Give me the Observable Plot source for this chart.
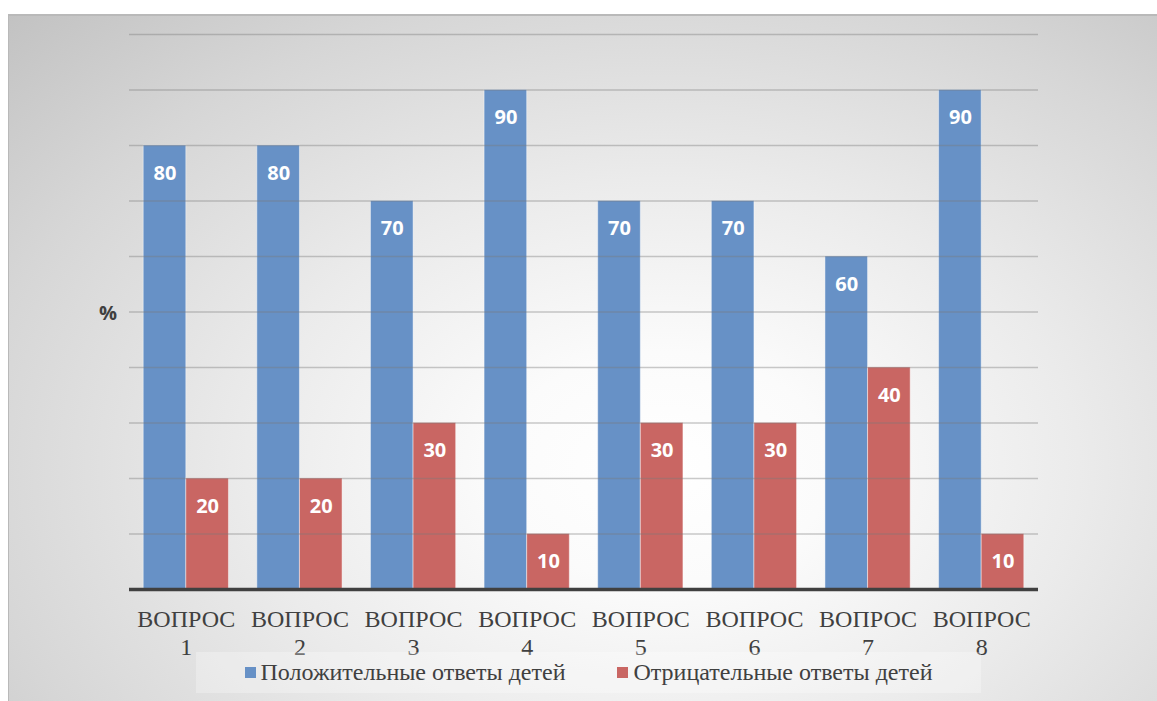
<!DOCTYPE html>
<html>
<head>
<meta charset="utf-8">
<script src="https://cdn.jsdelivr.net/npm/d3@7"></script>
<script src="https://cdn.jsdelivr.net/npm/@observablehq/plot@0.6"></script>
<style>
  html, body { margin: 0; padding: 0; background: #ffffff; }
  #page { position: relative; width: 1157px; height: 701px; overflow: hidden; }
  #frame {
    position: absolute; left: 8px; top: 14px; width: 1149px; height: 687px;
    background: radial-gradient(ellipse farthest-corner at 57% 66%, #ffffff 0%, #fbfbfb 18%, #ebebeb 45%, #d6d6d6 75%, #c2c2c2 100%);
    box-shadow: inset 1px 2px 0 #b9b9b9;
  }
  #chart { position: absolute; left: 0; top: 0; }
  #legend {
    position: absolute; left: 188px; top: 638px; width: 785px; height: 41px;
    background: rgba(255,255,255,0.28);
    display: flex; align-items: center; justify-content: center; gap: 52px;
    font-family: "Liberation Serif", "Times New Roman", serif; font-size: 24px; color: #404040;
  }
  .item { display: flex; align-items: center; }
  .sw { width: 11px; height: 11px; margin-right: 5px; }
</style>
</head>
<body>
<div id="page"><div id="frame"><div id="chart"></div><div id="legend"></div></div></div>
<script>
const categories = ["ВОПРОС 1", "ВОПРОС 2", "ВОПРОС 3", "ВОПРОС 4", "ВОПРОС 5", "ВОПРОС 6", "ВОПРОС 7", "ВОПРОС 8"];
const positive = [80, 80, 70, 90, 70, 70, 60, 90];
const negative = [20, 20, 30, 10, 30, 30, 40, 10];
const seriesNames = ["Положительные ответы детей", "Отрицательные ответы детей"];
const seriesColors = ["#6791c6", "#c96663"];
const yTicks = [10, 20, 30, 40, 50, 60, 70, 80, 90, 100];

const posData = categories.map((c, i) => ({category: c, value: positive[i]}));
const negData = categories.map((c, i) => ({category: c, value: negative[i]}));

const W = 1149, H = 660, ML = 121, MR = 119, MT = 20, MB = 85;
const paddingInner = 0.25, paddingOuter = 0.125;
const step = (W - ML - MR) / categories.length;
const bw = step * (1 - paddingInner);
const half = bw / 2;

const labelStyle = {fill: "white", fontWeight: "bold", fontSize: 20, fontFamily: "'Open Sans', sans-serif", dy: 28};

const chart = Plot.plot({
  width: W, height: H,
  marginLeft: ML, marginRight: MR, marginTop: MT, marginBottom: MB,
  style: {background: "transparent", overflow: "visible"},
  x: {domain: categories, paddingInner, paddingOuter, round: false, label: null},
  y: {domain: [0, 100], label: null, axis: null},
  marks: [
    Plot.barY(posData, {x: "category", y: "value", fill: seriesColors[0], insetRight: half, stroke: "white", strokeOpacity: 0.45, strokeWidth: 1}),
    Plot.barY(negData, {x: "category", y: "value", fill: seriesColors[1], insetLeft: half, stroke: "white", strokeOpacity: 0.45, strokeWidth: 1}),
    Plot.gridY(yTicks, {stroke: "#7a7a7a", strokeOpacity: 0.4, strokeWidth: 1.5}),
    Plot.ruleY([0], {stroke: "#404040", strokeWidth: 3.5}),
    Plot.text(posData, {x: "category", y: "value", text: d => String(d.value), dx: -half / 2, ...labelStyle}),
    Plot.text(negData, {x: "category", y: "value", text: d => String(d.value), dx: half / 2, ...labelStyle}),
    Plot.text(["%"], {frameAnchor: "left", y: [50], text: d => d, dx: -21.5, dy: 2, textAnchor: "middle", fontSize: 20, fontWeight: "bold", fill: "#404040", fontFamily: "'Open Sans', sans-serif"}),
    Plot.axisX({tickSize: 0, tickPadding: 18, fontSize: 24, fontFamily: "'Liberation Serif', serif", fill: "#404040", lineHeight: 1.15, tickFormat: d => d.replace(" ", "\n"), label: null})
  ]
});
document.getElementById("chart").appendChild(chart);

const legend = document.getElementById("legend");
seriesNames.forEach((name, i) => {
  const item = document.createElement("div");
  item.className = "item";
  const sw = document.createElement("span");
  sw.className = "sw";
  sw.style.background = seriesColors[i];
  const t = document.createElement("span");
  t.textContent = name;
  item.appendChild(sw);
  item.appendChild(t);
  legend.appendChild(item);
});
</script>
</body>
</html>
